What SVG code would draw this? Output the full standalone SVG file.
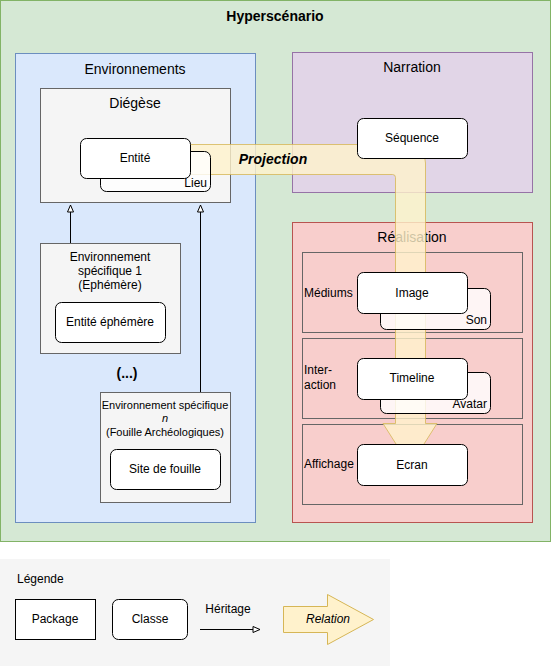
<svg xmlns="http://www.w3.org/2000/svg" width="551" height="668" viewBox="0 0 551 668">
<defs>
<style>
text{font-family:"Liberation Sans",Arial,Helvetica,sans-serif;fill:#000}
.t14{font-size:14px;text-anchor:middle}
.t12{font-size:12px;text-anchor:middle}
.t11{font-size:11px;text-anchor:middle}
.lbl{font-size:12px}
.cls{fill:#fff;stroke:#000;stroke-width:1}
.clsT{fill:#fff;fill-opacity:0.8;stroke:#000;stroke-width:1}
.pkg{fill:#f5f5f5;stroke:#666;stroke-width:1}
.lane{fill:none;stroke:#666;stroke-width:1}
.inh{fill:none;stroke:#000;stroke-width:1}
.band{fill:#fff2cc;fill-opacity:0.8;stroke:#d6b656;stroke-opacity:0.8;stroke-width:1}
</style>
<marker id="tri" markerWidth="10" markerHeight="10" refX="8" refY="4" orient="auto" markerUnits="userSpaceOnUse">
<path d="M1,1 L8,4 L1,7 Z" fill="#fff" stroke="#000" stroke-width="1"/>
</marker>
</defs>

<g id="hyperscenario">
<rect x="0.5" y="0.5" width="550" height="541" fill="#d5e8d4" stroke="#82b366"/>
<text x="275" y="21" class="t14" font-weight="bold">Hyperscénario</text>
</g>

<g id="environnements">
<rect x="15.5" y="53.5" width="240" height="469" fill="#dae8fc" stroke="#6c8ebf"/>
<text x="135" y="74" class="t14">Environnements</text>
</g>

<g id="diegese">
<rect x="40.5" y="88.5" width="190" height="114" class="pkg"/>
<text x="135" y="108" class="t14">Diégèse</text>
</g>

<g id="env-specifique-1">
<rect x="40.5" y="243.5" width="140" height="110" class="pkg"/>
<text x="110" y="261" class="t12">Environnement</text>
<text x="110" y="275" class="t12">spécifique 1</text>
<text x="110" y="289" class="t12">(Ephémère)</text>
</g>

<g id="entite-ephemere">
<rect x="55.5" y="302.5" width="110" height="40" rx="6" class="cls"/>
<text x="110" y="326" class="t12">Entité éphémère</text>
</g>

<g id="ellipsis">
<text x="127" y="378" font-size="14" font-weight="bold" text-anchor="middle">(...)</text>
</g>

<g id="env-specifique-n">
<rect x="100.5" y="392.5" width="130" height="110" class="pkg"/>
<text x="165" y="409" class="t11">Environnement spécifique</text>
<text x="165" y="422" class="t11" font-style="italic">n</text>
<text x="165" y="436" class="t11">(Fouille Archéologiques)</text>
</g>

<g id="site-de-fouille">
<rect x="110.5" y="449.5" width="110" height="40" rx="6" class="cls"/>
<text x="165" y="473" class="t12">Site de fouille</text>
</g>

<g id="narration">
<rect x="292.5" y="52.5" width="240" height="140" fill="#e1d5e7" stroke="#9673a6"/>
<text x="412" y="72" class="t14">Narration</text>
</g>

<g id="realisation">
<rect x="292.5" y="222.5" width="240" height="300" fill="#f8cecc" stroke="#b85450"/>
<text x="412" y="242" class="t14">Réalisation</text>
</g>

<g id="mediums">
<rect x="302.5" y="252.5" width="220" height="80" class="lane"/>
<text x="304" y="297" class="lbl">Médiums</text>
</g>

<g id="interaction">
<rect x="302.5" y="338.5" width="220" height="80" class="lane"/>
<text x="304" y="374" class="lbl">Inter-</text>
<text x="304" y="389" class="lbl">action</text>
</g>

<g id="affichage">
<rect x="302.5" y="424.5" width="220" height="80" class="lane"/>
<text x="304" y="468" class="lbl">Affichage</text>
</g>

<g id="connectors">
<path class="band" d="M180,144.5 L407,144.5 Q425.5,144.5 425.5,163 L425.5,423.5 L437,423.5 L410,466 L383,423.5 L395.5,423.5 L395.5,177.5 Q395.5,174.5 392.5,174.5 L180,174.5 Z"/>
<text x="273" y="164" font-size="14" font-weight="bold" font-style="italic" text-anchor="middle">Projection</text>
<line x1="70.5" y1="243" x2="70.5" y2="205" class="inh" marker-end="url(#tri)"/>
<line x1="200.5" y1="392" x2="200.5" y2="205" class="inh" marker-end="url(#tri)"/>
</g>

<g id="lieu">
<rect x="100.5" y="151.5" width="110" height="40" rx="6" class="clsT"/>
<text x="207" y="187" font-size="12" text-anchor="end">Lieu</text>
</g>

<g id="entite">
<rect x="80.5" y="138.5" width="110" height="40" rx="6" class="cls"/>
<text x="135" y="162" class="t12">Entité</text>
</g>

<g id="sequence">
<rect x="357.5" y="118.5" width="110" height="40" rx="6" class="cls"/>
<text x="412" y="142" class="t12">Séquence</text>
</g>

<g id="son">
<rect x="380.5" y="288.5" width="110" height="41" rx="6" class="clsT"/>
<text x="487" y="324" font-size="12" text-anchor="end">Son</text>
</g>

<g id="image">
<rect x="357.5" y="272.5" width="110" height="41" rx="6" class="cls"/>
<text x="412" y="297" class="t12">Image</text>
</g>

<g id="avatar">
<rect x="380.5" y="372.5" width="110" height="41" rx="6" class="clsT"/>
<text x="487" y="408" font-size="12" text-anchor="end">Avatar</text>
</g>

<g id="timeline">
<rect x="357.5" y="358.5" width="110" height="41" rx="6" class="cls"/>
<text x="412" y="382" class="t12">Timeline</text>
</g>

<g id="ecran">
<rect x="357.5" y="444.5" width="110" height="41" rx="6" class="cls"/>
<text x="412" y="469" class="t12">Ecran</text>
</g>

<g id="legende">
<rect x="0" y="559" width="390" height="107" fill="#f5f5f5"/>
<text x="17" y="583" font-size="12">Légende</text>
<rect x="15.5" y="599.5" width="80" height="40" fill="#fff" stroke="#000"/>
<text x="55" y="623" class="t12">Package</text>
<rect x="112.5" y="599.5" width="75" height="40" rx="6" class="cls"/>
<text x="150" y="623" class="t12">Classe</text>
<text x="228" y="613" class="t12">Héritage</text>
<line x1="200" y1="629.5" x2="260" y2="629.5" class="inh" marker-end="url(#tri)"/>
<path d="M283.5,606.5 L327.5,606.5 L327.5,594.5 L373.5,619.5 L327.5,644.5 L327.5,632.5 L283.5,632.5 Z" fill="#fff2cc" stroke="#d6b656"/>
<text x="328" y="623" font-size="12" font-style="italic" text-anchor="middle">Relation</text>
</g>
</svg>
